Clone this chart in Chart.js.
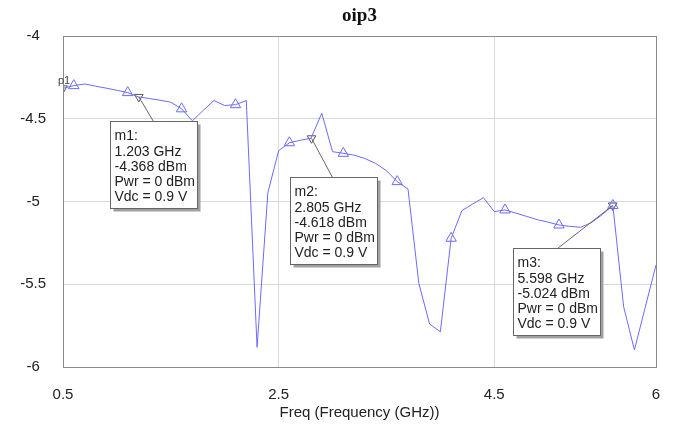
<!DOCTYPE html>
<html>
<head>
<meta charset="utf-8">
<script src="https://cdn.jsdelivr.net/npm/chart.js"></script>
<style>
  html, body { margin: 0; padding: 0; background: #fff; }
  #wrap { width: 676px; height: 424px; }
</style>
</head>
<body>
<div id="wrap"><canvas id="chartOip3"></canvas></div>
<script>
// frequency sweep (GHz) and oip3 (dBm)
const freqGHz = [0.5, 0.6, 0.7, 0.8, 0.9, 1.0, 1.1, 1.2, 1.3, 1.4, 1.5, 1.6, 1.7, 1.8, 1.9, 2.0,
  2.1, 2.2, 2.3, 2.4, 2.5, 2.6, 2.7, 2.8, 2.9, 3.0, 3.1, 3.2, 3.3, 3.4, 3.5, 3.6, 3.7, 3.8, 3.9, 4.0,
  4.1, 4.2, 4.3, 4.4, 4.5, 4.6, 4.7, 4.8, 4.9, 5.0, 5.1, 5.2, 5.3, 5.4, 5.5, 5.6, 5.7, 5.8, 5.9, 6.0];
const oip3 = [-4.316, -4.300, -4.290, -4.303, -4.315, -4.328, -4.342, -4.368, -4.378, -4.388,
  -4.400, -4.440, -4.512, -4.450, -4.390, -4.420, -4.415, -4.390, -5.881, -4.947,
  -4.693, -4.645, -4.630, -4.618, -4.467, -4.699, -4.709, -4.720, -4.740, -4.770,
  -4.814, -4.880, -4.925, -5.494, -5.740, -5.787, -5.222, -5.055, -5.015, -4.977,
  -5.061, -5.051, -5.070, -5.090, -5.110, -5.125, -5.142, -5.150, -5.156, -5.128,
  -5.080, -5.024, -5.636, -5.897, -5.640, -5.384];

// markers
const markerNames = ["p1", "m1", "m2", "m3"];
const markerFreq = [0.5, 1.203, 2.805, 5.598];
const markerValue = [-4.316, -4.368, -4.618, -5.024];

const xTicks = [0.5, 2.5, 4.5, 6];
const yTicks = [-6, -5.5, -5, -4.5, -4];

const corLinha = "#6b6bff";

// onde fica cada caixa em relacao ao marcador (dx, dy, ponto da linha)
const caixas = {
  m1: { dx: -29, dy: 24, lead: 43 },
  m2: { dx: -22, dy: 39, lead: 42 },
  m3: { dx: -100, dy: 43, lead: 44 },
};

const pluginMarcas = {
  id: "marcas",
  afterDatasetsDraw(chart) {
    const ctx = chart.ctx;
    const area = chart.chartArea;
    const sx = chart.scales.x;
    const sy = chart.scales.y;

    ctx.save();
    // moldura do grafico
    ctx.strokeStyle = "#8a8a8a";
    ctx.lineWidth = 1;
    ctx.strokeRect(area.left + 0.5, area.top + 0.5, area.right - area.left, area.bottom - area.top);

    // titulo centrado na area
    ctx.fillStyle = "#111";
    ctx.font = "bold 19px 'Liberation Serif'";
    ctx.textAlign = "center";
    ctx.textBaseline = "middle";
    ctx.fillText("oip3", (area.left + area.right) / 2, 16);

    markerNames.forEach((nome, i) => {
      const px = sx.getPixelForValue(markerFreq[i]);
      const py = sy.getPixelForValue(markerValue[i]);

      if (nome == "p1") {
        ctx.fillStyle = "#444";
        ctx.font = "11px 'Liberation Sans'";
        ctx.textAlign = "center";
        ctx.textBaseline = "bottom";
        ctx.fillText("p1", px + 1, py - 2);
        return;
      }

      const c = caixas[nome];
      const bx = Math.round(px + c.dx) + 0.5;
      const by = Math.round(py + c.dy) + 0.5;
      const w = 87;
      const h = 87;

      // linha ate o marcador
      ctx.strokeStyle = "#666";
      ctx.beginPath();
      ctx.moveTo(px, py);
      ctx.lineTo(bx + c.lead, by);
      ctx.stroke();

      // sombra
      ctx.fillStyle = "#a0a0a0";
      ctx.fillRect(bx + 3, by + 3, w, h);
      ctx.fillStyle = "#fff";
      ctx.fillRect(bx, by, w, h);
      ctx.strokeStyle = "#666";
      ctx.strokeRect(bx, by, w, h);

      const linhas = [
        nome + ":",
        markerFreq[i].toFixed(3) + " GHz",
        markerValue[i].toFixed(3) + " dBm",
        "Pwr = 0 dBm",
        "Vdc = 0.9 V",
      ];
      ctx.fillStyle = "#222";
      ctx.font = "14px 'Liberation Sans'";
      ctx.textAlign = "left";
      ctx.textBaseline = "middle";
      linhas.forEach((t, k) => {
        ctx.fillText(t, bx + 4, by + 15 + k * 15.2);
      });
    });
    ctx.restore();
  },
};

const chartOip3 = new Chart(document.getElementById("chartOip3"), {
  type: "line",
  data: {
    datasets: [
      {
        label: "oip3",
        data: freqGHz.map((f, i) => ({ x: f, y: oip3[i] })),
        borderColor: corLinha,
        borderWidth: 1,
        tension: 0,
        pointStyle: "triangle",
        pointRadius: (c) => (c.dataIndex % 5 == 1 ? 6 : 0),
        pointBorderColor: corLinha,
        pointBackgroundColor: "rgba(255,255,255,0)",
        pointBorderWidth: 1,
      },
      {
        label: "marcadores",
        data: markerFreq.map((f, i) => ({ x: f, y: markerValue[i] })),
        showLine: false,
        pointStyle: "triangle",
        rotation: 180,
        pointRadius: 5,
        pointBorderColor: "#555",
        pointBackgroundColor: "rgba(255,255,255,0)",
        pointBorderWidth: 1,
      },
    ],
  },
  options: {
    responsive: true,
    maintainAspectRatio: false,
    devicePixelRatio: 1,
    animation: false,
    layout: { padding: { top: 36, right: 20, bottom: 0, left: 0 } },
    plugins: {
      legend: { display: false },
      tooltip: { enabled: false },
      title: { display: false },
    },
    scales: {
      x: {
        type: "linear",
        min: 0.5,
        max: 6,
        afterBuildTicks: (scale) => {
          scale.ticks = xTicks.map((v) => ({ value: v }));
        },
        afterFit: (scale) => {
          scale.height = 57;
          scale.paddingLeft = 0;
          scale.paddingRight = 0;
        },
        ticks: {
          callback: (v) => String(v),
          color: "#222",
          font: { family: "Liberation Sans", size: 15 },
          padding: 19,
          maxRotation: 0,
        },
        grid: { color: "#d9d9d9", drawTicks: false },
        border: { display: false },
        title: {
          display: true,
          text: "Freq (Frequency (GHz))",
          color: "#222",
          font: { family: "Liberation Sans", size: 15 },
          padding: { top: 2, bottom: 2 },
        },
      },
      y: {
        min: -6,
        max: -4,
        afterBuildTicks: (scale) => {
          scale.ticks = yTicks.map((v) => ({ value: v }));
        },
        afterFit: (scale) => {
          scale.width = 63;
        },
        ticks: {
          callback: (v) => String(v),
          color: "#222",
          font: { family: "Liberation Sans", size: 15 },
          crossAlign: "center",
          padding: 17,
        },
        grid: { color: "#d9d9d9", drawTicks: false },
        border: { display: false },
      },
    },
  },
  plugins: [pluginMarcas],
});
</script>
</body>
</html>
